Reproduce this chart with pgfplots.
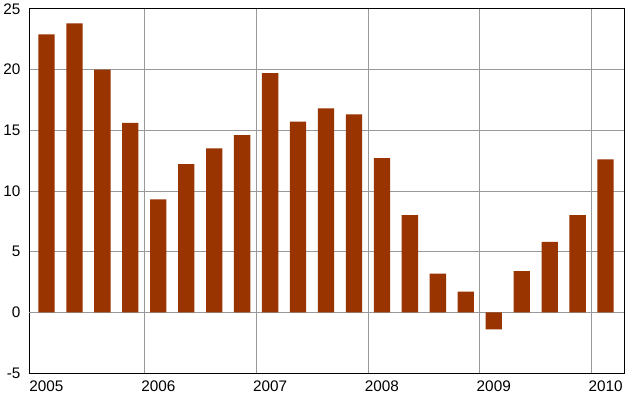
\documentclass[border=0pt]{standalone}
\usepackage{pgfplots}
\pgfplotsset{compat=1.18}
\usepackage{fontspec}
\setmainfont{Liberation Sans}
\begin{document}
\begin{tikzpicture}
\begin{axis}[
  scale only axis, width=583pt, height=357pt,
  xmin=-0.62, xmax=20.66, ymin=-5, ymax=25,
  ytick={-5,0,...,25},
  xtick={0,4,8,12,16,20},
  xticklabels={2005,2006,2007,2008,2009,2010},
  minor xtick={3.5,7.5,11.5,15.5,19.5},
  xminorgrids, ymajorgrids,
  minor grid style={gray!80, line width=0.8pt},
  major grid style={gray!80, line width=0.8pt},
  major x tick style={draw=none}, minor x tick style={draw=none},
  ytick style={draw=none},
  axis line style={line width=0.8pt},
  tick label style={font=\fontsize{15}{17}\selectfont},
  yticklabel style={xshift=-5pt},
  /pgf/number format/assume math mode=true,
  ybar, bar width=16pt,
  extra y ticks={0}, extra y tick labels={},
  extra y tick style={grid style={black, line width=0.8pt}},
]
\addplot[draw=none, fill={rgb,255:red,153;green,51;blue,0}] coordinates {
(0,22.9)(1,23.8)(2,20.0)(3,15.6)(4,9.3)(5,12.2)(6,13.5)(7,14.6)(8,19.7)(9,15.7)(10,16.8)(11,16.3)(12,12.7)(13,8.0)(14,3.2)(15,1.7)(16,-1.4)(17,3.4)(18,5.8)(19,8.0)(20,12.6)};
\end{axis}
\end{tikzpicture}
\end{document}
